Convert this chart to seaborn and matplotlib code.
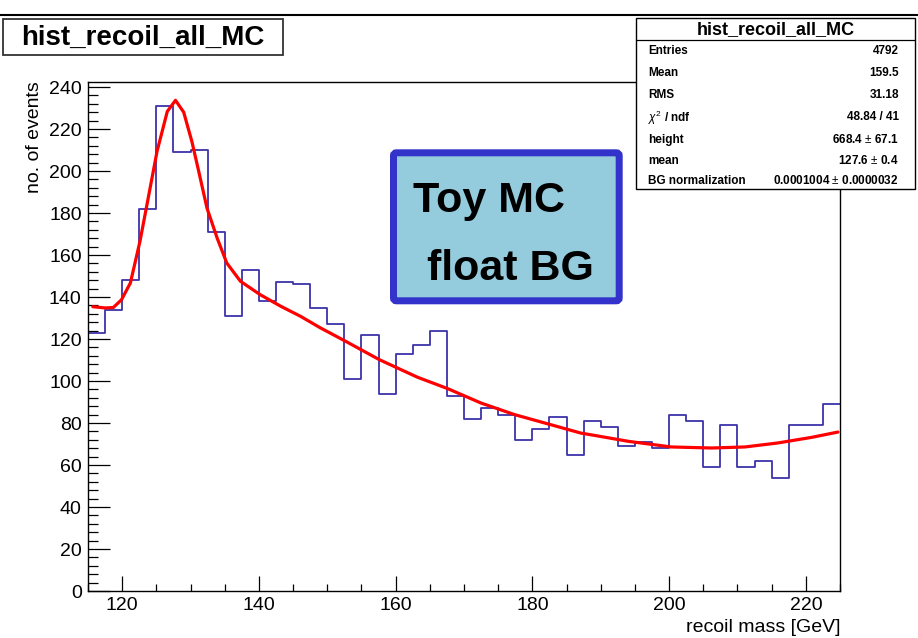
import numpy as np
import pandas as pd
import matplotlib
matplotlib.use("Agg")
import matplotlib.pyplot as plt
import seaborn as sns
from matplotlib.patches import Rectangle, FancyBboxPatch
from matplotlib.lines import Line2D
from matplotlib.ticker import MultipleLocator

# ---------------- data ----------------
bin_low = 115.0
bin_high = 225.0
bin_width = 2.5
counts = [123, 134, 148, 182, 231, 209, 210, 171, 131, 153,
          138, 147, 146, 135, 127, 101, 122, 94, 113, 117,
          124, 93, 82, 87, 84, 72, 77, 83, 65, 81,
          78, 69, 71, 68, 84, 81, 59, 79, 59, 62,
          54, 79, 79, 89]

fit_x = [115.7, 117.5, 118.7, 119.9, 121.2, 122.6, 123.8, 125.1, 126.6, 127.8,
         129.0, 130.2, 131.2, 132.4, 133.9, 135.3, 137.3, 140.2, 143.2, 146.1,
         149.0, 152.7, 157.6, 163.2, 167.6, 172.5, 177.4, 182.7, 187.1, 189.1,
         194.0, 200.3, 206.2, 211.1, 215.9, 220.9, 224.7]
fit_y = [135.4, 134.8, 135.0, 138.7, 146.7, 166.5, 187.0, 209.4, 228.4, 233.7,
         228.0, 214.0, 199.8, 182.4, 168.0, 156.2, 147.5, 141.1, 135.6, 130.8,
         125.3, 118.9, 110.2, 101.8, 96.4, 89.5, 84.0, 79.2, 75.2, 74.1,
         71.3, 68.6, 68.1, 68.6, 70.5, 73.2, 75.7]

stat_names = ["Entries", "Mean", "RMS", r"$\chi^{2}$ / ndf", "height", "mean", "BG normalization"]
stat_values = ["4792", "159.5", "31.18", "48.84 / 41", "668.4 $\\pm$ 67.1",
               "127.6 $\\pm$ 0.4", "0.0001004 $\\pm$ 0.0000032"]
hist_name = "hist_recoil_all_MC"
x_title = "recoil mass [GeV]"
y_title = "no. of events"
note_lines = ["Toy MC", "float BG"]

centers = bin_low + bin_width * (np.arange(len(counts)) + 0.5)
df_hist = pd.DataFrame({"x": centers, "w": np.asarray(counts, dtype=float)})
df_fit = pd.DataFrame({"x": fit_x, "y": fit_y})

# ---------------- style ----------------
sns.set_theme(style="white")
plt.rcParams["font.family"] = ["Liberation Sans", "DejaVu Sans"]
plt.rcParams["mathtext.fontset"] = "custom"
plt.rcParams["mathtext.rm"] = "Liberation Sans"
plt.rcParams["mathtext.it"] = "Liberation Sans:italic"
plt.rcParams["mathtext.bf"] = "Liberation Sans:bold"
plt.rcParams["text.color"] = "black"
plt.rcParams["axes.labelcolor"] = "black"
plt.rcParams["xtick.color"] = "black"
plt.rcParams["ytick.color"] = "black"
plt.rcParams["xtick.labelcolor"] = "black"
plt.rcParams["ytick.labelcolor"] = "black"

W, H = 918, 638
fig = plt.figure(figsize=(W / 100, H / 100), dpi=100)
fig.patch.set_facecolor("white")

def fx(px):
    return px / W

def fy(py):
    return 1 - py / H

ax_left, ax_right, ax_bottom, ax_top = 88, 840, 591, 81.6
ax = fig.add_axes([fx(ax_left), fy(ax_bottom), (ax_right - ax_left) / W, (ax_bottom - ax_top) / H])
ax.set_facecolor("white")

sns.histplot(data=df_hist, x="x", weights="w", binwidth=bin_width,
             binrange=(bin_low, bin_high), element="step",
             fill=False, color="#3d33aa", linewidth=1.3, ax=ax)
sns.lineplot(data=df_fit, x="x", y="y", color="red", linewidth=2.3, ax=ax)

ax.set_xlim(bin_low, bin_high)
ax.set_ylim(0, 242.6)

for s in ax.spines.values():
    s.set_color("black")
    s.set_linewidth(1.0)

ax.xaxis.set_major_locator(MultipleLocator(20))
ax.xaxis.set_minor_locator(MultipleLocator(5))
ax.yaxis.set_major_locator(MultipleLocator(20))
ax.yaxis.set_minor_locator(MultipleLocator(4))
ax.tick_params(axis="x", which="major", direction="in", length=10.8, width=0.9,
               labelsize=14, pad=4, top=False, bottom=True, color="black", labelcolor="black")
ax.tick_params(axis="x", which="minor", direction="in", length=5.4, width=0.9,
               top=False, bottom=True, color="black")
ax.tick_params(axis="y", which="major", direction="in", length=15.8, width=0.9,
               labelsize=14, pad=4.5, right=False, left=True, color="black", labelcolor="black")
ax.tick_params(axis="y", which="minor", direction="in", length=7.2, width=0.9,
               right=False, left=True, color="black")

ax.set_xlabel(x_title, fontsize=14, loc="right", color="black")
ax.xaxis.set_label_coords(1.0, -(628 - ax_bottom) / (ax_bottom - ax_top))
ax.xaxis.label.set_va("center")
ax.set_ylabel(y_title, fontsize=14, loc="top", color="black")
ax.yaxis.set_label_coords(-(ax_left - 35) / (ax_right - ax_left), 1.0)
ax.yaxis.label.set_va("center")

# canvas top line
fig.add_artist(Line2D([0, 1], [fy(15), fy(15)], transform=fig.transFigure,
                      color="black", lw=1.5))

# title box
fig.add_artist(Rectangle((fx(3), fy(55)), fx(283) - fx(3), fy(19) - fy(55),
                         transform=fig.transFigure, facecolor="white",
                         edgecolor="#333333", lw=1.3, zorder=5))
fig.text(fx(143), fy(37.5), hist_name, ha="center", va="center",
         fontsize=20, fontweight="bold", color="black", zorder=6)

# stats box
sx0, sx1, sy0, sy1 = 636, 915, 18, 189
fig.add_artist(Rectangle((fx(sx0), fy(sy1)), fx(sx1) - fx(sx0), fy(sy0) - fy(sy1),
                         transform=fig.transFigure, facecolor="white",
                         edgecolor="black", lw=1.0, zorder=5))
fig.add_artist(Line2D([fx(sx0), fx(sx1)], [fy(40), fy(40)], transform=fig.transFigure,
                      color="black", lw=0.9, zorder=6))
fig.text(fx((sx0 + sx1) / 2), fy(29.5), hist_name, ha="center", va="center",
         fontsize=13, fontweight="bold", color="black", zorder=6)
row_y = [51, 73.5, 95.5, 117.5, 139.5, 161, 181]
for name, val, ry in zip(stat_names, stat_values, row_y):
    fig.text(fx(648), fy(ry), name, ha="left", va="center", fontsize=8.5,
             fontweight="bold", color="black", zorder=6)
    fig.text(fx(899), fy(ry), val, ha="right", va="center", fontsize=8.5,
             fontweight="bold", color="black", zorder=6)

# note box (pixel -> inches via dpi_scale_trans)
def inx(px):
    return px / 100

def iny(py):
    return (H - py) / 100

bw = 7
bx0, bx1, by0, by1 = 390 + bw / 2, 622.7 - bw / 2, 149.3 + bw / 2, 304.3 - bw / 2
note = FancyBboxPatch((inx(bx0), iny(by1)), inx(bx1) - inx(bx0), iny(by0) - iny(by1),
                      boxstyle="round,pad=0,rounding_size=0.03",
                      transform=fig.dpi_scale_trans, facecolor="#94cbdd",
                      edgecolor="#3333cc", lw=bw * 0.72, zorder=7)
fig.add_artist(note)
fig.text(fx(413), fy(211.7), note_lines[0], ha="left", va="baseline", fontsize=31,
         fontweight="bold", color="black", zorder=8)
fig.text(fx(427), fy(280), note_lines[1], ha="left", va="baseline", fontsize=31,
         fontweight="bold", color="black", zorder=8)

fig.savefig("out.png", dpi=100)
